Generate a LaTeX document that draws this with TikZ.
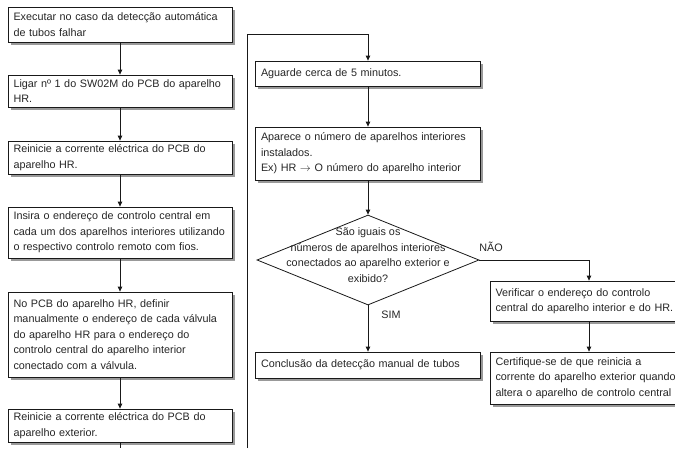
\documentclass[tikz,border=0pt]{standalone}
\usepackage{fontspec}
\setmainfont{Liberation Sans}
\usetikzlibrary{shapes.geometric,shadows,arrows.meta}
\newcommand{\ol}[1]{\mbox{#1}}
\begin{document}
\begin{tikzpicture}[x=1pt,y=-1pt,
  font=\fontsize{10.8}{15.5}\selectfont,
  every node/.style={text=black!85},
  box/.style={draw=black!90, line width=0.8pt, fill=white,
    drop shadow={shadow xshift=2.5pt, shadow yshift=-2.5pt, fill=black!40, opacity=1},
    align=left, inner xsep=5.5pt, inner ysep=0pt, anchor=center},
  conn/.style={line width=0.8pt, draw=black!90},
  arr/.style={conn, -{Triangle[length=5pt,width=4.5pt]}},
  decision/.style={draw=black!90, line width=0.8pt, diamond, fill=white, inner sep=0pt,
    minimum width=222pt, minimum height=90pt},
]
\useasboundingbox (0,0) rectangle (675,448);

% left column
\node[box, text width=213pt, minimum height=35pt] (b1) at (120,24.5)
  {\ol{Executar no caso da detecção automática}\\\ol{de tubos falhar}};
\node[box, text width=213pt, minimum height=32pt] (b2) at (120,91)
  {\ol{Ligar nº 1 do SW02M do PCB do aparelho}\\\ol{HR.}};
\node[box, text width=213pt, minimum height=33pt] (b3) at (120,157.5)
  {\ol{Reinicie a corrente eléctrica do PCB do}\\\ol{aparelho HR.}};
\node[box, text width=213pt, minimum height=51pt] (b4) at (120,232.5)
  {\ol{Insira o endereço de controlo central em}\\\ol{cada um dos aparelhos interiores utilizando}\\\ol{o respectivo controlo remoto com fios.}};
\node[box, text width=213pt, minimum height=85pt] (b5) at (120,334.5)
  {\ol{No PCB do aparelho HR, definir}\\\ol{manualmente o endereço de cada válvula}\\\ol{do aparelho HR para o endereço do}\\\ol{controlo central do aparelho interior}\\\ol{conectado com a válvula.}};
\node[box, text width=213pt, minimum height=33pt] (b6) at (120,425.5)
  {\ol{Reinicie a corrente eléctrica do PCB do}\\\ol{aparelho exterior.}};

\draw[arr] (b1) -- (b2);
\draw[arr] (b2) -- (b3);
\draw[arr] (b3) -- (b4);
\draw[arr] (b4) -- (b5);
\draw[arr] (b5) -- (b6);
\coordinate (lend) at (120,448);
\draw[conn] (b6.south) -- (lend);

% right column
\node[box, text width=214pt, minimum height=25pt] (b7) at (368,73.5)
  {\ol{Aguarde cerca de 5 minutos.}};
\node[box, text width=214pt, minimum height=53pt] (b8) at (368,153.5)
  {\ol{Aparece o número de aparelhos interiores}\\\ol{instalados.}\\\ol{Ex) HR $\rightarrow$ O número do aparelho interior}};
\node[decision] (dec) at (368,260) {};
\node[align=center, inner sep=0pt] (dect) at (368,255)
  {São iguais os\\números de aparelhos interiores\\conectados ao aparelho exterior e\\exibido?};
\node[box, text width=214pt, minimum height=26pt] (b9) at (368,365)
  {\ol{Conclusão da detecção manual de tubos}};
\node[box, text width=179pt, minimum height=40pt] (b10) at (585,301)
  {\ol{Verificar o endereço do controlo}\\\ol{central do aparelho interior e do HR.}};
\node[box, text width=179pt, minimum height=52pt] (b11) at (585,378)
  {\ol{Certifique-se de que reinicia a}\\\ol{corrente do aparelho exterior quando}\\\ol{altera o aparelho de controlo central}};

\coordinate (rb) at (247,448);
\coordinate (rt) at (247,34);
\draw[arr] (rb) -- (rt) -| (b7.north);
\draw[arr] (b7) -- (b8);
\draw[arr] (b8) -- (dec.north);
\draw[arr] (dec.south) -- (b9);
\coordinate (nx) at (589,0);
\draw[arr] (dec.east) -| (b10.north -| nx);
\draw[arr] (b10.south -| nx) -- (b11.north -| nx);

\node[inner sep=0pt] (nao) at (491,247) {NÃO};
\node[inner sep=0pt] (sim) at (391,315) {SIM};
\end{tikzpicture}
\end{document}
